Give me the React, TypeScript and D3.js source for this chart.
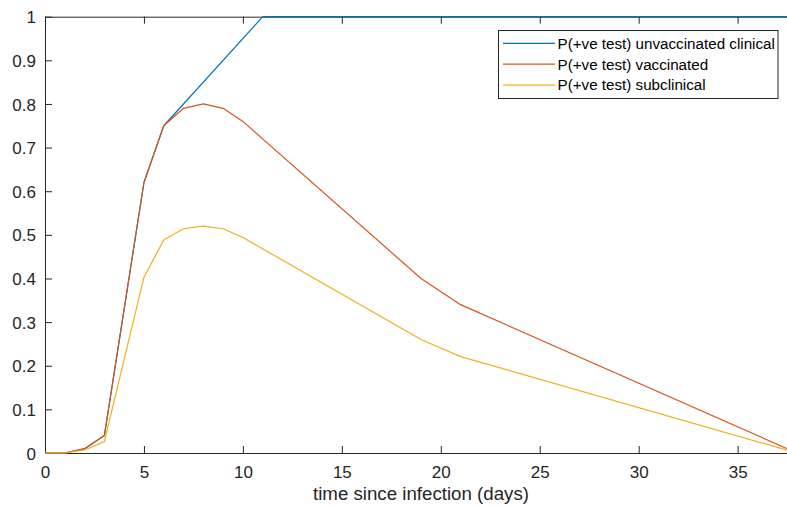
import React, { useEffect, useRef } from 'react';
import * as d3 from 'd3';

// days at which the curves are given
const days = [0, 1, 2, 3, 5, 6, 7, 8, 9, 10, 19, 21, 38];
const vaccinated = [0, 0, 0.01, 0.04, 0.62, 0.75, 0.79, 0.8, 0.79, 0.76, 0.4, 0.34, 0];
const subclinical = [0, 0, 0.007, 0.026, 0.403, 0.488, 0.514, 0.52, 0.514, 0.494, 0.26, 0.221, 0];
const unvaccDays = [0, 1, 2, 3, 5, 6, 11, 38];
const unvaccinated = [0, 0, 0.01, 0.04, 0.62, 0.75, 1, 1];

const seriesNames = [
  'P(+ve test) unvaccinated clinical',
  'P(+ve test) vaccinated',
  'P(+ve test) subclinical',
];
const colors = ['#0072BD', '#D95319', '#EDB120'];

const xTicks = [0, 5, 10, 15, 20, 25, 30, 35];
const yTicks = [0, 0.1, 0.2, 0.3, 0.4, 0.5, 0.6, 0.7, 0.8, 0.9, 1];
const xLabel = 'time since infection (days)';

const FONT = '"Liberation Sans", Arial, Helvetica, sans-serif';
const AXIS = '#262626';

export default function App() {
  const ref = useRef<SVGSVGElement>(null);

  useEffect(() => {
    const svg = d3.select(ref.current);
    svg.selectAll('*').remove();

    const left = 45, right = 797, top = 16.7, bottom = 453;
    const x = d3.scaleLinear().domain([0, 38]).range([left, right]);
    const y = d3.scaleLinear().domain([0, 1]).range([bottom, top]);

    svg.append('rect').attr('width', 787).attr('height', 507).attr('fill', '#fff');

    // box lines (top / right), ticks inside
    const topAx = svg.append('g')
      .attr('transform', 'translate(0,' + top + ')')
      .call(d3.axisTop(x).tickValues(xTicks).tickSizeInner(-7).tickSizeOuter(0).tickFormat(() => ''));
    const rightAx = svg.append('g')
      .attr('transform', 'translate(' + right + ',0)')
      .call(d3.axisRight(y).tickValues(yTicks).tickSizeInner(-7).tickSizeOuter(0).tickFormat(() => ''));

    const xAx = svg.append('g')
      .attr('transform', 'translate(0,' + bottom + ')')
      .call(d3.axisBottom(x).tickValues(xTicks).tickSizeInner(-7).tickSizeOuter(0).tickPadding(13)
        .tickFormat((d) => String(d)));
    const yAx = svg.append('g')
      .attr('transform', 'translate(' + left + ',0)')
      .call(d3.axisLeft(y).tickValues(yTicks).tickSizeInner(-7).tickSizeOuter(0).tickPadding(9)
        .tickFormat((d) => String(+(+d).toFixed(1))));

    [topAx, rightAx, xAx, yAx].forEach((g) => {
      g.selectAll('path,line').attr('stroke', AXIS).attr('stroke-width', 1);
      g.selectAll('text')
        .attr('fill', AXIS)
        .style('font-family', FONT)
        .style('font-size', '17px');
    });
    yAx.selectAll('text').attr('dy', '0.36em');

    // x axis label
    svg.append('text')
      .attr('x', (left + right) / 2)
      .attr('y', 500)
      .attr('text-anchor', 'middle')
      .attr('fill', AXIS)
      .style('font-family', FONT)
      .style('font-size', '18.7px')
      .text(xLabel);

    // curves
    const line = d3.line<[number, number]>()
      .x((d) => x(d[0]))
      .y((d) => y(d[1]));

    const curves: [number, number][][] = [
      unvaccDays.map((d, i) => [d, unvaccinated[i]]),
      days.map((d, i) => [d, vaccinated[i]]),
      days.map((d, i) => [d, subclinical[i]]),
    ];

    curves.forEach((pts, i) => {
      svg.append('path')
        .attr('d', line(pts))
        .attr('fill', 'none')
        .attr('stroke', colors[i])
        .attr('stroke-width', 1.2)
        .attr('stroke-linejoin', 'round');
    });

    // legend
    const lg = svg.append('g');
    lg.append('rect')
      .attr('x', 498.5).attr('y', 30.5)
      .attr('width', 279.5).attr('height', 68)
      .attr('fill', '#fff')
      .attr('stroke', AXIS)
      .attr('stroke-width', 1);

    seriesNames.forEach((name, i) => {
      const cy = 43.3 + i * 20.9;
      lg.append('line')
        .attr('x1', 503).attr('x2', 555)
        .attr('y1', cy).attr('y2', cy)
        .attr('stroke', colors[i])
        .attr('stroke-width', 1.2);
      lg.append('text')
        .attr('x', 557.5).attr('y', cy)
        .attr('dy', '0.35em')
        .attr('fill', '#000')
        .style('font-family', FONT)
        .style('font-size', '15.2px')
        .text(name);
    });
  }, []);

  return (
    <svg
      ref={ref}
      width={787}
      height={507}
      style={{ position: 'absolute', left: 0, top: 0, display: 'block' }}
    />
  );
}
